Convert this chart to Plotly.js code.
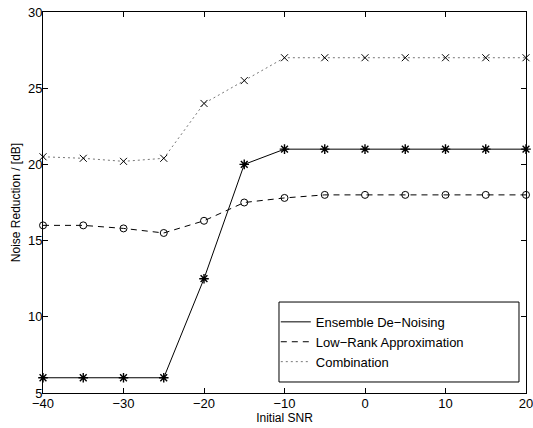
<!DOCTYPE html>
<html>
<head>
<meta charset="utf-8">
<script src="https://cdn.plot.ly/plotly-3.0.1.min.js"></script>
<style>html,body{margin:0;padding:0;background:#fff;}#chart{width:533px;height:428px;}</style>
</head>
<body>
<div id="chart"></div>
<script>
const snr = [-40, -35, -30, -25, -20, -15, -10, -5, 0, 5, 10, 15, 20];
const ensemble = [6, 6, 6, 6, 12.5, 20, 21, 21, 21, 21, 21, 21, 21];
const lowRank = [16, 16, 15.8, 15.5, 16.3, 17.5, 17.8, 18, 18, 18, 18, 18, 18];
const combination = [20.5, 20.4, 20.2, 20.4, 24, 25.5, 27, 27, 27, 27, 27, 27, 27];
const names = ["Ensemble De\u2212Noising", "Low\u2212Rank Approximation", "Combination"];
const xTicks = [-40, -30, -20, -10, 0, 10, 20];
const yTicks = [5, 10, 15, 20, 25, 30];

const font = "Liberation Sans, Arial, sans-serif";
const lineStyles = [
  {color: "#000", width: 1, dash: "solid"},
  {color: "#000", width: 1, dash: "6px,5px"},
  {color: "#777", width: 1, dash: "2px,3px"}
];
const markerStyles = [
  {symbol: "asterisk-open", size: 8, color: "#000", line: {color: "#000", width: 1.4}},
  {symbol: "circle-open", size: 7, color: "#000", line: {color: "#000", width: 1}},
  {symbol: "x-thin-open", size: 7, color: "#000", line: {color: "#000", width: 1}}
];
const series = [ensemble, lowRank, combination];
const traces = [];
series.forEach((ys, i) => {
  traces.push({x: snr, y: ys, type: "scatter", mode: "lines", name: names[i], line: lineStyles[i], showlegend: true, hoverinfo: "skip"});
});
series.forEach((ys, i) => {
  traces.push({x: snr, y: ys, type: "scatter", mode: "markers", marker: markerStyles[i], showlegend: false, hoverinfo: "skip", cliponaxis: false});
});

const axisCommon = {
  showline: true, linecolor: "#000", linewidth: 1, mirror: "ticks",
  ticks: "inside", ticklen: 5, tickcolor: "#000", tickwidth: 1,
  showgrid: false, zeroline: false, ticklabeloverflow: "allow",
  tickfont: {family: font, size: 13, color: "#000"}
};

const layout = {
  width: 533, height: 428,
  margin: {l: 43, r: 7, t: 12, b: 35},
  paper_bgcolor: "#fff", plot_bgcolor: "#fff",
  font: {family: font, color: "#000"},
  xaxis: Object.assign({}, axisCommon, {
    range: [-40, 20], tickvals: xTicks, ticktext: xTicks.map(v => v < 0 ? "\u2212" + (-v) : String(v)),
    ticklabelstandoff: -2,
    title: {text: "Initial SNR", font: {family: font, size: 12, color: "#000"}, standoff: 4}
  }),
  yaxis: Object.assign({}, axisCommon, {
    range: [5, 30], tickvals: yTicks, ticklabelstandoff: -3,
    title: {text: "Noise Reduction / [dB]", font: {family: font, size: 12, color: "#000"}, standoff: 4}
  }),
  legend: {
    x: 0.482, y: 0.226, xanchor: "left", yanchor: "top",
    bgcolor: "rgba(0,0,0,0)", borderwidth: 0,
    font: {family: font, size: 13, color: "#000"},
    itemwidth: 30, tracegroupgap: 0
  },
  shapes: [{
    type: "rect", xref: "paper", yref: "paper",
    x0: 0.4886, x1: 0.9855, y0: 0.0289, y1: 0.2388,
    line: {color: "#000", width: 1}, fillcolor: "#fff", layer: "below"
  }],
  showlegend: true
};

Plotly.newPlot("chart", traces, layout, {staticPlot: true, displayModeBar: false});
</script>
</body>
</html>
